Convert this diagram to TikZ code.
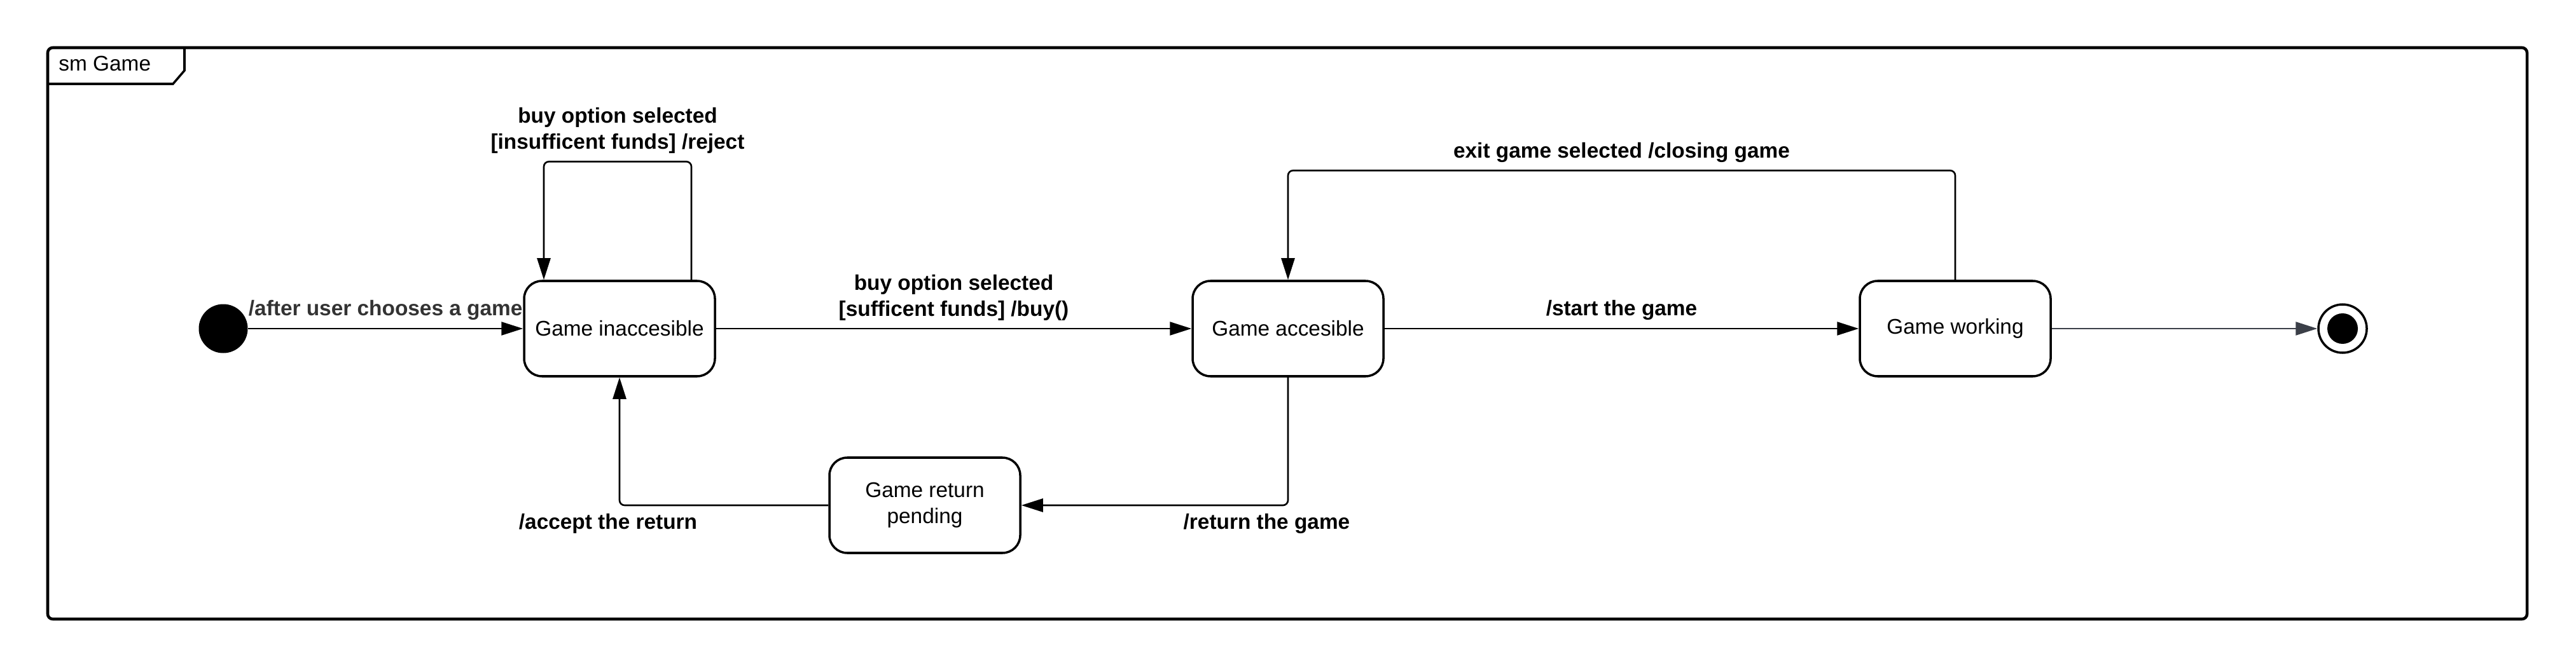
\documentclass[tikz,border=0pt]{standalone}
\usepackage{fontspec}
\setmainfont{Liberation Sans}
\usetikzlibrary{arrows.meta,positioning}
\definecolor{gray3}{HTML}{333333}
\definecolor{gray8}{HTML}{3B3F48}

\begin{document}
\begin{tikzpicture}[font=\fontsize{9.5}{11.6}\selectfont, align=center,
  state/.style={draw, line width=1pt, rounded corners=0.28cm, minimum width=3cm, minimum height=1.5cm, inner sep=0pt},
  trans/.style={draw, line width=0.75pt, rounded corners=0.08cm, -{Triangle[length=3.4mm,width=2.1mm]}},
  lbl/.style={font=\fontsize{9.5}{11.6}\selectfont\bfseries}]
\useasboundingbox (0,0) rectangle (40.5,10.5);
% frame
\draw[line width=1.3pt, rounded corners=0.08cm] (0.75,0.76) rectangle (39.73,9.75);
\draw[line width=1pt] (0.75,9.18) -- (2.72,9.18) -- (2.90,9.39) -- (2.90,9.75);
\node[anchor=west] (title) at (0.80,9.50) {sm Game};
% states
\node[circle, fill, minimum size=0.77cm, inner sep=0pt] (init) at (3.51,5.33) {};
\node[state] (inacc) at (9.74,5.33) {Game inaccesible};
\node[state] (acc) at (20.25,5.33) {Game accesible};
\node[state] (work) at (30.74,5.33) {Game working};
\node[state] (pend) at (14.54,2.55) {Game return\\pending};
\node[circle, draw, line width=1pt, minimum size=0.76cm, inner sep=0pt] (final) at (36.83,5.33) {};
\node[circle, fill, minimum size=0.48cm, inner sep=0pt] (finaldot) at (final.center) {};
% transitions
\draw[trans] (init) -- node[lbl, text=gray3, above] {/after user chooses a game} (inacc);
\draw[trans] ([xshift=1.13cm]inacc.north) |- node[lbl, above, pos=0.75] {buy option selected\\{[}insufficent funds{]} /reject} ([xshift=-1.19cm, yshift=1.86cm]inacc.north) -- ([xshift=-1.19cm]inacc.north);
\draw[trans] (inacc) -- node[lbl, above] {buy option selected\\{[}sufficent funds{]} /buy()} (acc);
\draw[trans] (acc) -- node[lbl, above] {/start the game} (work);
\draw[trans] (work.north) |- node[lbl, above, pos=0.75] {exit game selected /closing game} ([yshift=1.72cm]acc.north) -- (acc.north);
\draw[trans] (acc.south) |- node[lbl, below, pos=0.54] {/return the game} (pend.east);
\draw[trans] (pend.west) -| node[lbl, below, pos=0.5, xshift=-0.18cm] {/accept the return} (inacc.south);
\draw[trans, gray8] (work) -- (final);
\end{tikzpicture}
\end{document}
